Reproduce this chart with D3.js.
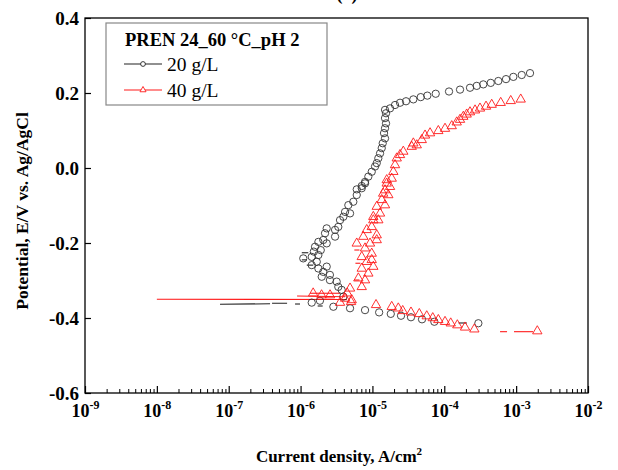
<!DOCTYPE html>
<html><head><meta charset="utf-8">
<script src="https://cdn.jsdelivr.net/npm/d3@7"></script>
<style>body{margin:0;background:#fff}svg{display:block}</style>
</head><body><svg id="c" width="618" height="470"></svg>
<script>
// ---------- data ----------
const xTickExponents = [-9, -8, -7, -6, -5, -4, -3, -2];
const yTicks = [-0.6, -0.4, -0.2, 0.0, 0.2, 0.4];
const legendTitle = "PREN 24_60 \u00B0C_pH 2";
const seriesNames = ["20 g/L", "40 g/L"];

// 20 g/L : current density (A/cm2) and potential (V)
const i20 = [2.98e-4, 7.27e-5, 4.90e-5, 3.44e-5, 2.50e-5, 1.80e-5, 1.24e-5, 7.89e-6, 4.88e-6, 2.86e-6, 1.86e-6, 1.43e-6,
  3.94e-6, 3.73e-6, 3.35e-6, 3.18e-6, 2.56e-6, 2.56e-6, 1.97e-6, 2.07e-6, 1.77e-6, 2.31e-6, 1.43e-6, 1.68e-6, 1.09e-6,
  1.43e-6, 1.77e-6, 1.53e-6, 1.91e-6, 1.59e-6, 2.31e-6, 1.77e-6, 2.07e-6, 3.02e-6, 2.19e-6, 2.31e-6, 3.02e-6, 3.35e-6,
  3.54e-6, 3.94e-6, 4.88e-6, 4.16e-6, 4.62e-6, 5.42e-6, 6.05e-6, 6.05e-6, 7.10e-6, 7.10e-6, 7.89e-6, 7.89e-6, 8.77e-6,
  9.78e-6, 1.087e-5, 1.148e-5, 1.208e-5, 1.276e-5, 1.347e-5, 1.391e-5, 1.497e-5, 1.45e-5, 1.497e-5, 1.546e-5, 1.497e-5,
  1.546e-5, 1.497e-5, 1.758e-5, 2.063e-5, 2.422e-5, 2.935e-5, 3.71e-5, 4.70e-5, 5.81e-5, 7.60e-5, 1.164e-4, 1.656e-4,
  2.28e-4, 2.83e-4, 3.49e-4, 4.43e-4, 5.65e-4, 7.23e-4, 9.14e-4, 1.196e-3, 1.56e-3];
const e20 = [-0.414, -0.410, -0.4035, -0.398, -0.394, -0.389, -0.385, -0.379, -0.374, -0.370, -0.354, -0.359,
  -0.343, -0.325, -0.317, -0.303, -0.299, -0.285, -0.290, -0.277, -0.268, -0.263, -0.259, -0.250, -0.241,
  -0.237, -0.232, -0.223, -0.219, -0.210, -0.201, -0.197, -0.192, -0.183, -0.174, -0.161, -0.165, -0.157,
  -0.139, -0.130, -0.121, -0.117, -0.099, -0.090, -0.072, -0.057, -0.054, -0.048, -0.041, -0.037, -0.023,
  -0.010, 0.004, 0.013, 0.026, 0.039, 0.053, 0.066, 0.079, 0.093, 0.106, 0.119, 0.133,
  0.146, 0.155, 0.159, 0.168, 0.174, 0.178, 0.183, 0.189, 0.193, 0.198, 0.204, 0.209,
  0.214, 0.219, 0.223, 0.227, 0.232, 0.237, 0.243, 0.248, 0.253];

// 40 g/L
const i40 = [1.97e-3, 2.62e-4, 1.944e-4, 1.519e-4, 1.229e-4, 1.024e-4, 8.26e-5, 6.91e-5, 5.70e-5, 4.49e-5, 3.44e-5,
  2.64e-5, 2.29e-5, 1.856e-5, 1.122e-5, 5.04e-6, 3.54e-6,
  1.497e-6, 1.96e-6, 2.57e-6, 4.16e-6, 5.15e-6, 4.46e-6, 4.88e-6, 7.10e-6, 7.89e-6, 6.37e-6, 8.77e-6, 7.10e-6,
  1.029e-5, 8.33e-6, 9.78e-6, 7.10e-6, 9.78e-6, 7.89e-6, 6.05e-6, 9.26e-6, 1.148e-5, 7.47e-6, 1.148e-5, 8.33e-6,
  9.78e-6, 1.208e-5, 1.029e-5, 1.029e-5, 1.276e-5, 1.148e-5, 1.497e-5, 1.347e-5, 1.41e-5, 1.664e-5, 1.497e-5, 1.758e-5,
  1.58e-5, 1.581e-5, 1.856e-5, 1.954e-5, 2.063e-5, 2.18e-5, 2.42e-5, 2.69e-5, 3.52e-5, 4.14e-5, 3.71e-5, 4.86e-5,
  5.40e-5, 6.34e-5, 8.26e-5, 1.024e-4, 1.27e-4, 1.49e-4, 1.656e-4, 1.84e-4, 2.05e-4, 2.28e-4, 2.68e-4, 3.14e-4,
  3.81e-4, 4.57e-4, 6.10e-4, 8.41e-4, 1.158e-3];
const e40 = [-0.435, -0.430, -0.425, -0.419, -0.414, -0.410, -0.405, -0.400, -0.395, -0.389, -0.385,
  -0.381, -0.374, -0.370, -0.365, -0.357, -0.359,
  -0.334, -0.339, -0.339, -0.348, -0.352, -0.334, -0.321, -0.317, -0.299, -0.294, -0.281, -0.268,
  -0.263, -0.250, -0.245, -0.237, -0.228, -0.214, -0.201, -0.201, -0.192, -0.183, -0.179, -0.165,
  -0.157, -0.139, -0.139, -0.130, -0.121, -0.103, -0.099, -0.085, -0.068, -0.072, -0.059, -0.050,
  -0.041, -0.032, -0.028, -0.010, 0.008, 0.026, 0.035, 0.044, 0.057, 0.061, 0.066, 0.075,
  0.087, 0.093, 0.099, 0.105, 0.112, 0.122, 0.129, 0.137, 0.143, 0.149, 0.154, 0.159,
  0.164, 0.169, 0.174, 0.179, 0.183];

// connecting-line fragments near the corrosion potential and at the ends [i1, i2, E1, E2]
const lines20 = [
  [7.57e-8, 3.76e-7, -0.3635, -0.3620],
  [4.01e-7, 6.49e-7, -0.3608, -0.3605],
  [8.38e-7, 9.83e-7, -0.3627, -0.3627],
  [1.73e-6, 2.03e-6, -0.3680, -0.3680],
  [1.04e-6, 1.28e-6, -0.2260, -0.2260],
  [1.04e-6, 1.22e-6, -0.2450, -0.2450],
  [1.22e-6, 1.50e-6, -0.2590, -0.2590],
  [1.58e-4, 2.06e-4, -0.4133, -0.4133]
];
const lines40 = [
  [1.0e-8, 4.43e-6, -0.3500, -0.3507],
  [8.93e-7, 4.16e-6, -0.3413, -0.3432],
  [1.355e-6, 3.54e-6, -0.3340, -0.3340],
  [5.6e-6, 6.6e-6, -0.2187, -0.2187],
  [5.8e-6, 6.8e-6, -0.2540, -0.2540],
  [5.6e-6, 6.6e-6, -0.2987, -0.2987],
  [5.97e-4, 7.47e-4, -0.4365, -0.4365],
  [9.34e-4, 1.72e-3, -0.4365, -0.4365]
];

// ---------- drawing ----------
const FONT = "'Liberation Serif','Times New Roman',serif";
const BLACK = "#333", RED = "#ff1a1a";
const svg = d3.select("#c");
const L = 85, R = 588, T = 18, B = 393;
const x = d3.scaleLog().domain([Math.pow(10, xTickExponents[0]), Math.pow(10, xTickExponents[xTickExponents.length - 1])]).range([L, R]);
const y = d3.scaleLinear().domain([yTicks[0], yTicks[yTicks.length - 1]]).range([B, T]);

// partially clipped panel title (cut by the top edge, as in the source figure)
svg.append("text").attr("x", 347).attr("y", -0.5).attr("text-anchor", "middle")
  .attr("font-family", FONT).attr("font-weight", "bold").attr("font-size", 18).text("(a)");

// minor x ticks
const minor = [];
for (let k = 0; k < xTickExponents.length - 1; k++)
  for (let m = 2; m <= 9; m++) minor.push(m * Math.pow(10, xTickExponents[k]));
svg.append("g").attr("transform", `translate(0,${B})`)
  .call(d3.axisBottom(x).tickValues(minor).tickSize(-4).tickFormat(""))
  .call(g => { g.select(".domain").remove(); g.selectAll("line").attr("stroke", "#000").attr("stroke-width", 1); });

// major x axis
const gx = svg.append("g").attr("transform", `translate(0,${B})`)
  .call(d3.axisBottom(x).tickValues(xTickExponents.map(e => Math.pow(10, e))).tickSize(-7).tickFormat(""));
gx.select(".domain").remove();
gx.selectAll("line").attr("stroke", "#000").attr("stroke-width", 1.2);
gx.selectAll(".tick").each(function (d, idx) {
  const t = d3.select(this).append("text").attr("y", 24).attr("fill", "#000")
    .attr("font-family", FONT).attr("font-weight", "bold").attr("font-size", 18).attr("text-anchor", "middle");
  t.append("tspan").text("10");
  t.append("tspan").attr("dy", -8).attr("font-size", 12).text(String(xTickExponents[idx]));
});

// y axis
const f1 = d3.format(".1f");
const gy = svg.append("g").attr("transform", `translate(${L},0)`)
  .call(d3.axisLeft(y).tickValues(yTicks).tickSize(-6).tickPadding(6)
    .tickFormat(v => f1(v).replace("\u2212", "-")));
gy.select(".domain").remove();
gy.selectAll("line").attr("stroke", "#000").attr("stroke-width", 1.2);
gy.selectAll("text").attr("font-family", FONT).attr("font-weight", "bold").attr("font-size", 19).attr("fill", "#000");

// frame
svg.append("rect").attr("x", L).attr("y", T).attr("width", R - L).attr("height", B - T)
  .attr("fill", "none").attr("stroke", "#000").attr("stroke-width", 1.3);

// axis titles
const xl = svg.append("text").attr("x", 339).attr("y", 462).attr("text-anchor", "middle")
  .attr("font-family", FONT).attr("font-weight", "bold").attr("font-size", 17);
xl.append("tspan").text("Current density, A/cm");
xl.append("tspan").attr("dy", -7).attr("font-size", 11).text("2");
svg.append("text").attr("transform", `translate(28,211) rotate(-90)`).attr("text-anchor", "middle")
  .attr("font-family", FONT).attr("font-weight", "bold").attr("font-size", 17.5)
  .text("Potential, E/V vs. Ag/AgCl");

// data line fragments
const plot = svg.append("g");
function drawLines(arr, color) {
  plot.selectAll(null).data(arr).enter().append("line")
    .attr("x1", d => x(d[0])).attr("x2", d => x(d[1]))
    .attr("y1", d => y(d[2])).attr("y2", d => y(d[3]))
    .attr("stroke", color).attr("stroke-width", 1.1);
}
drawLines(lines20, "#222");
drawLines(lines40, RED);

// markers
const circ = d3.symbol().type(d3.symbolCircle).size(42);
const tri = d3.symbol().type(d3.symbolTriangle).size(38);
plot.selectAll(null).data(d3.range(i20.length)).enter().append("path")
  .attr("d", circ).attr("transform", k => `translate(${x(i20[k])},${y(e20[k])})`)
  .attr("fill", "none").attr("stroke", BLACK).attr("stroke-width", 0.9);
plot.selectAll(null).data(d3.range(i40.length)).enter().append("path")
  .attr("d", tri).attr("transform", k => `translate(${x(i40[k])},${y(e40[k])})`)
  .attr("fill", "none").attr("stroke", RED).attr("stroke-width", 0.9);

// legend
const lg = svg.append("g");
lg.append("rect").attr("x", 106).attr("y", 23).attr("width", 221).attr("height", 82)
  .attr("fill", "#fff").attr("stroke", "#888").attr("stroke-width", 1.2);
lg.append("text").attr("x", 125).attr("y", 46).attr("font-family", FONT).attr("font-weight", "bold")
  .attr("font-size", 18.5).text(legendTitle);
const legColors = ["#222", RED];
const legSym = [d3.symbol().type(d3.symbolCircle).size(18), d3.symbol().type(d3.symbolTriangle).size(16)];
seriesNames.forEach((name, k) => {
  const yy = 64 + k * 26;
  lg.append("line").attr("x1", 124).attr("x2", 162).attr("y1", yy).attr("y2", yy)
    .attr("stroke", legColors[k]).attr("stroke-width", 1.1);
  lg.append("path").attr("d", legSym[k]).attr("transform", `translate(143,${yy})`)
    .attr("fill", "#fff").attr("stroke", legColors[k]).attr("stroke-width", 0.9);
  lg.append("text").attr("x", 167).attr("y", yy + 7).attr("font-family", FONT).attr("font-size", 19.5).text(name);
});
</script></body></html>
